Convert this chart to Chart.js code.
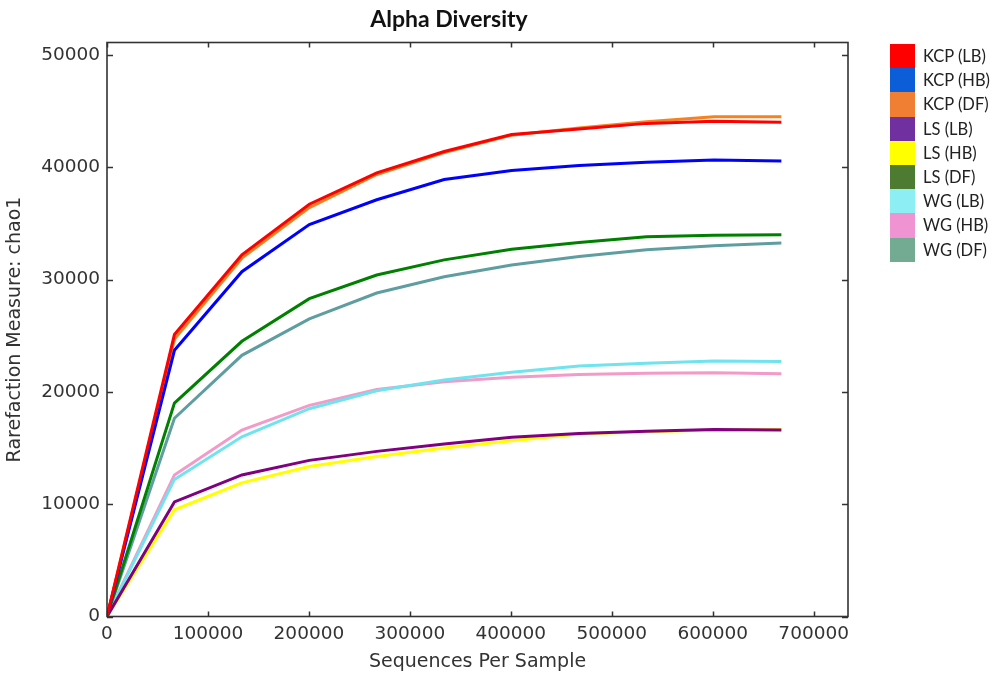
<!DOCTYPE html>
<html>
<head>
<meta charset="utf-8">
<script src="https://cdn.jsdelivr.net/npm/chart.js@4.4.1/dist/chart.umd.min.js"></script>
<style>
  html, body { margin: 0; padding: 0; background: #ffffff; }
  #wrap { position: relative; width: 1004px; height: 675px; overflow: hidden; }
  #chart { position: absolute; left: 0; top: 0; }
  #title { position: absolute; left: 0; top: 4px; width: 898px; text-align: center;
           font-family: Lato, "Open Sans", sans-serif; font-weight: bold; font-size: 23px; color: #111; }
  #legend { position: absolute; left: 890px; top: 44px; }
  .item { position: relative; height: 24.2px; }
  .sw { position: absolute; left: 0; top: 0; width: 25px; height: 24.2px; }
  .lb { position: absolute; left: 33px; top: 0; line-height: 24.2px; white-space: nowrap;
        font-family: Lato, "Open Sans", sans-serif; font-size: 16.5px; color: #222; }
</style>
</head>
<body>
<div id="wrap">
  <canvas id="chart" width="1004" height="675"></canvas>
  <div id="title">Alpha Diversity</div>
  <div id="legend"></div>
</div>
<script>
// ---- data ----
const titleText = "Alpha Diversity";
const xTitle = "Sequences Per Sample";
const yTitle = "Rarefaction Measure: chao1";
const sequencesPerSample = [0, 66800, 133600, 200400, 267200, 334000, 400800, 467600, 534400, 601200, 668000];
const seriesNames = ["KCP (LB)", "KCP (HB)", "KCP (DF)", "LS (LB)", "LS (HB)", "LS (DF)", "WG (LB)", "WG (HB)", "WG (DF)"];
const kcpLB = [0, 25100, 32200, 36700, 39500, 41400, 42900, 43400, 43900, 44100, 44000];
const kcpHB = [0, 23700, 30700, 34900, 37100, 38900, 39700, 40150, 40450, 40650, 40550];
const kcpDF = [0, 24700, 31900, 36400, 39350, 41300, 42850, 43500, 44050, 44500, 44500];
const lsLB  = [0, 10200, 12600, 13900, 14700, 15350, 15950, 16300, 16500, 16650, 16600];
const lsHB  = [0, 9500, 11900, 13350, 14250, 15000, 15650, 16250, 16450, 16600, 16650];
const lsDF  = [0, 19000, 24500, 28300, 30400, 31750, 32700, 33300, 33800, 33950, 33980];
const wgLB  = [0, 12200, 16000, 18500, 20100, 21050, 21750, 22300, 22550, 22750, 22700];
const wgHB  = [0, 12600, 16600, 18800, 20200, 20900, 21300, 21550, 21650, 21700, 21600];
const wgDF  = [0, 17650, 23250, 26500, 28800, 30250, 31300, 32050, 32650, 33000, 33250];
const seriesValues = [kcpLB, kcpHB, kcpDF, lsLB, lsHB, lsDF, wgLB, wgHB, wgDF];
const xTickValues = [0, 100000, 200000, 300000, 400000, 500000, 600000, 700000];
const yTickValues = [0, 10000, 20000, 30000, 40000, 50000];
const xMax = 734000;
const yMax = 51100;

// ---- styles ----
const lineColors = ["#ff0000", "#0000ff", "#f5821f", "#800080", "#ffff00", "#008000", "#6fe3ee", "#f39ac9", "#5f9ea0"];
const legendColors = ["#ff0000", "#0b5ed7", "#f07f33", "#7030a0", "#ffff00", "#4e7b32", "#8deff3", "#f093d3", "#72aa92"];

document.getElementById('title').textContent = titleText;
const legendEl = document.getElementById('legend');
seriesNames.forEach((n, i) => {
  const d = document.createElement('div'); d.className = 'item';
  const s = document.createElement('div'); s.className = 'sw'; s.style.background = legendColors[i];
  const l = document.createElement('div'); l.className = 'lb'; l.textContent = n;
  d.appendChild(s); d.appendChild(l); legendEl.appendChild(d);
});

const frameColor = "#333333";
const framePlugin = {
  id: 'frame',
  afterDraw(chart) {
    const { ctx, chartArea: a, scales } = chart;
    ctx.save();
    ctx.strokeStyle = frameColor;
    ctx.lineWidth = 1.5;
    const L = 5;
    ctx.beginPath();
    scales.x.ticks.forEach(t => {
      const p = Math.round(scales.x.getPixelForValue(t.value)) + 0.5;
      ctx.moveTo(p, a.bottom); ctx.lineTo(p, a.bottom - L);
      ctx.moveTo(p, a.top); ctx.lineTo(p, a.top + L);
    });
    scales.y.ticks.forEach(t => {
      const p = Math.round(scales.y.getPixelForValue(t.value)) + 0.5;
      ctx.moveTo(a.left, p); ctx.lineTo(a.left + L + 1, p);
      ctx.moveTo(a.right, p); ctx.lineTo(a.right - L - 1, p);
    });
    ctx.stroke();
    ctx.lineWidth = 1.6;
    ctx.strokeRect(a.left, a.top, a.right - a.left, a.bottom - a.top);
    ctx.restore();
  }
};

const datasets = seriesNames.map((n, i) => ({
  label: n,
  data: sequencesPerSample.map((x, j) => ({ x: x, y: seriesValues[i][j] })),
  borderColor: lineColors[i],
  backgroundColor: lineColors[i],
  borderWidth: 3,
  pointRadius: 0,
  tension: 0,
  fill: false
}));

const tickFont = { family: "DejaVu Sans", size: 18.5 };
new Chart(document.getElementById('chart'), {
  type: 'line',
  data: { datasets },
  options: {
    responsive: false,
    animation: false,
    events: [],
    layout: { padding: { top: 42.5, right: 156, bottom: 0, left: 0 } },
    plugins: { legend: { display: false }, title: { display: false }, tooltip: { enabled: false } },
    scales: {
      x: {
        type: 'linear', min: 0, max: xMax,
        grid: { display: false, drawTicks: false },
        border: { display: false },
        afterBuildTicks: s => { s.ticks = xTickValues.map(v => ({ value: v })); },
        ticks: { font: tickFont, color: '#333', padding: 7, maxRotation: 0, autoSkip: false,
                 callback: v => String(v) },
        title: { display: true, text: xTitle, font: { family: "DejaVu Sans", size: 19 }, color: '#333', padding: { top: 2, bottom: 2 } },
        afterFit: s => { s.height = 58.5; }
      },
      y: {
        type: 'linear', min: 0, max: yMax,
        grid: { display: false, drawTicks: false },
        border: { display: false },
        afterBuildTicks: s => { s.ticks = yTickValues.map(v => ({ value: v })); },
        ticks: { font: tickFont, color: '#333', padding: 7, autoSkip: false,
                 callback: v => String(v) },
        title: { display: true, text: yTitle, font: { family: "DejaVu Sans", size: 19 }, color: '#333', padding: { top: 4, bottom: 0 } },
        afterFit: s => { s.width = 107; }
      }
    }
  },
  plugins: [framePlugin]
});
</script>
</body>
</html>
